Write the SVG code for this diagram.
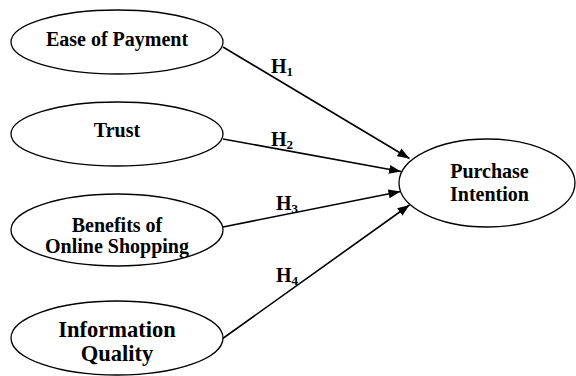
<svg xmlns="http://www.w3.org/2000/svg" width="576" height="376" viewBox="0 0 576 376">
<style>
.n{fill:#fff;stroke:#000;stroke-width:1.3}
.t{font-family:"Liberation Serif","Times New Roman",serif;font-weight:bold;font-size:20px;fill:#000;text-anchor:middle}
.big{font-size:22.5px}
.h{font-family:"Liberation Serif","Times New Roman",serif;font-weight:bold;font-size:20px;fill:#000}
.s{font-size:13px}
.c{stroke:#000;stroke-width:1.6;fill:none;marker-end:url(#ah)}
</style>
<defs>
<marker id="ah" markerUnits="userSpaceOnUse" markerWidth="13" markerHeight="10" refX="12" refY="4.5" orient="auto">
<path d="M0,0 L12,4.5 L0,9 z" fill="#000"/>
</marker>
</defs>
<rect width="576" height="376" fill="#fff"/>
<g id="connectors">
<line class="c" x1="223" y1="47" x2="409.5" y2="158.5"/>
<line class="c" x1="223" y1="139" x2="401" y2="171.5"/>
<line class="c" x1="223" y1="227" x2="400.5" y2="191.5"/>
<line class="c" x1="222" y1="339" x2="409.5" y2="205"/>
<text class="h" x="271" y="73">H<tspan class="s" dy="3">1</tspan></text>
<text class="h" x="271" y="146">H<tspan class="s" dy="3">2</tspan></text>
<text class="h" x="276" y="210">H<tspan class="s" dy="3">3</tspan></text>
<text class="h" x="276" y="282">H<tspan class="s" dy="3">4</tspan></text>
</g>
<g id="ease">
<ellipse class="n" cx="117" cy="42" rx="106" ry="32"/>
<text class="t" x="117" y="45.5">Ease of Payment</text>
</g>
<g id="trust">
<ellipse class="n" cx="117" cy="134" rx="106" ry="32"/>
<text class="t" x="117" y="137">Trust</text>
</g>
<g id="benefits">
<ellipse class="n" cx="117" cy="230" rx="106" ry="36"/>
<text class="t" x="117" y="231.5">Benefits of</text>
<text class="t" x="117" y="253">Online Shopping</text>
</g>
<g id="info">
<ellipse class="n" cx="117" cy="338" rx="106" ry="37"/>
<text class="t big" x="117" y="337">Information</text>
<text class="t big" x="117" y="361">Quality</text>
</g>
<g id="purchase">
<ellipse class="n" cx="487" cy="183" rx="88" ry="44"/>
<text class="t" x="489.5" y="178">Purchase</text>
<text class="t" x="489.5" y="201">Intention</text>
</g>
</svg>
